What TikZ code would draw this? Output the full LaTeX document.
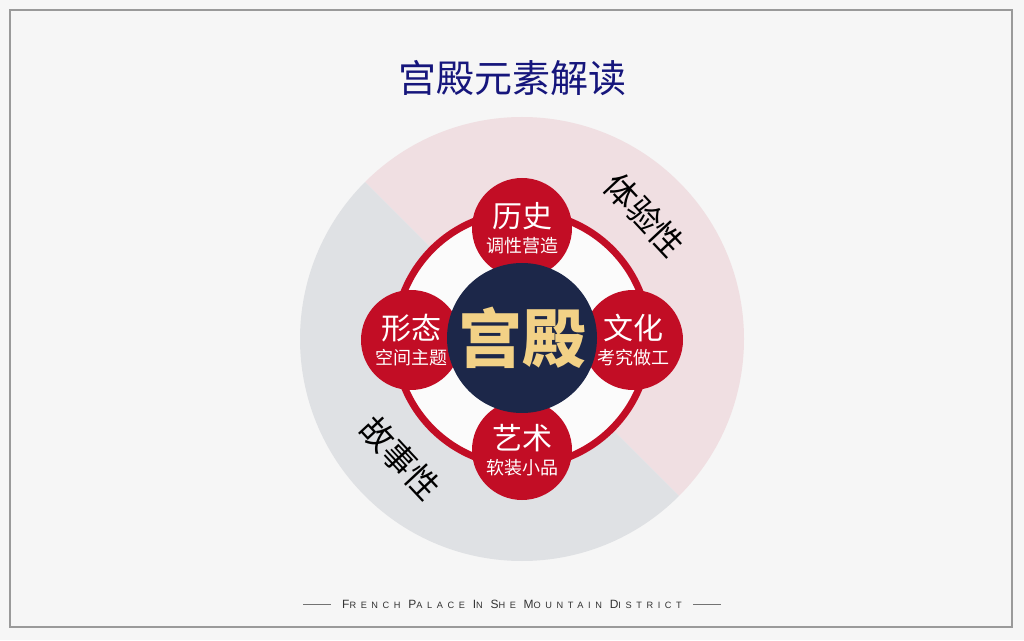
\documentclass[tikz,border=0pt]{standalone}
\usepackage{fontspec}
\usepackage{tikz}
\usetikzlibrary{positioning}
\newfontfamily\cjk{Noto Sans CJK SC}
\newfontfamily\footfont[LetterSpace=50]{Liberation Sans}
\definecolor{pagebg}{HTML}{F6F6F6}
\definecolor{framegray}{HTML}{9A9A9A}
\definecolor{pinkzone}{HTML}{F0DFE2}
\definecolor{grayzone}{HTML}{DFE1E4}
\definecolor{ringred}{HTML}{C20D25}
\definecolor{corenavy}{HTML}{1C2749}
\definecolor{coregold}{HTML}{F2D186}
\definecolor{titleblue}{HTML}{16167C}
\newcommand{\bigsc}[2]{{\fontsize{12}{12}\selectfont #1}{\fontsize{9.2}{9.2}\selectfont #2}}
\tikzset{
  petal/.style={circle, fill=ringred, minimum size=100pt, inner sep=0pt,
    text=white, align=center, font=\cjk},
  sidetag/.style={font=\cjk\fontsize{33}{33}\selectfont, text=black, rotate=-47}
}

\begin{document}
\begin{tikzpicture}[x=1pt, y=1pt]
    \useasboundingbox (0,0) rectangle (1024,640);
    \fill[pagebg] (0,0) rectangle (1024,640);
    \draw[framegray, line width=1.5pt] (10,13) rectangle (1012,630);

    \node[font=\cjk\fontsize{38}{38}\selectfont, text=titleblue] (title) at (512,562) {宫殿元素解读};

    % two halves of the outer disc
    \coordinate (mid) at (522,301);
    \fill[pinkzone] (mid) -- ++(135:222) arc[start angle=135, end angle=-45, radius=222] -- cycle;
    \fill[grayzone] (mid) -- ++(135:222) arc[start angle=135, end angle=315, radius=222] -- cycle;

    % ring
    \fill[white!60!pagebg] (mid) circle[radius=126];
    \draw[ringred, line width=7pt] (mid) circle[radius=127];

    \node[petal] (lishi) at (522,412)
      {{\fontsize{30}{32}\selectfont 历史}\\[7pt] {\fontsize{18}{18}\selectfont 调性营造}};
    \node[petal] (yishu) at (522,190)
      {{\fontsize{30}{32}\selectfont 艺术}\\[7pt] {\fontsize{18}{18}\selectfont 软装小品}};
    \node[petal] (xingtai) at (411,300)
      {{\fontsize{30}{32}\selectfont 形态}\\[7pt] {\fontsize{18}{18}\selectfont 空间主题}};
    \node[petal] (wenhua) at (633,300)
      {{\fontsize{30}{32}\selectfont 文化}\\[7pt] {\fontsize{18}{18}\selectfont 考究做工}};

    \node[circle, fill=corenavy, minimum size=150pt, inner sep=0pt,
      text=coregold, font=\cjk\bfseries\fontsize{64}{64}\selectfont] (core) at (522,302) {宫殿};

    \node[sidetag] (tiyan) at (645,425) {体验性};
    \node[sidetag] (gushi) at (400,182) {故事性};

    % footer
    \node[font=\footfont, text=black!80] (foot) at (512,36)
      {\bigsc{F}{RENCH} \bigsc{P}{ALACE} \bigsc{I}{N} \bigsc{S}{HE} \bigsc{M}{OUNTAIN} \bigsc{D}{ISTRICT}};
    \draw[black!55, line width=0.6pt] ([xshift=-8pt]foot.west) -- ++(-28,0);
    \draw[black!55, line width=0.6pt] ([xshift=8pt]foot.east) -- ++(28,0);
  \end{tikzpicture}
\end{document}
